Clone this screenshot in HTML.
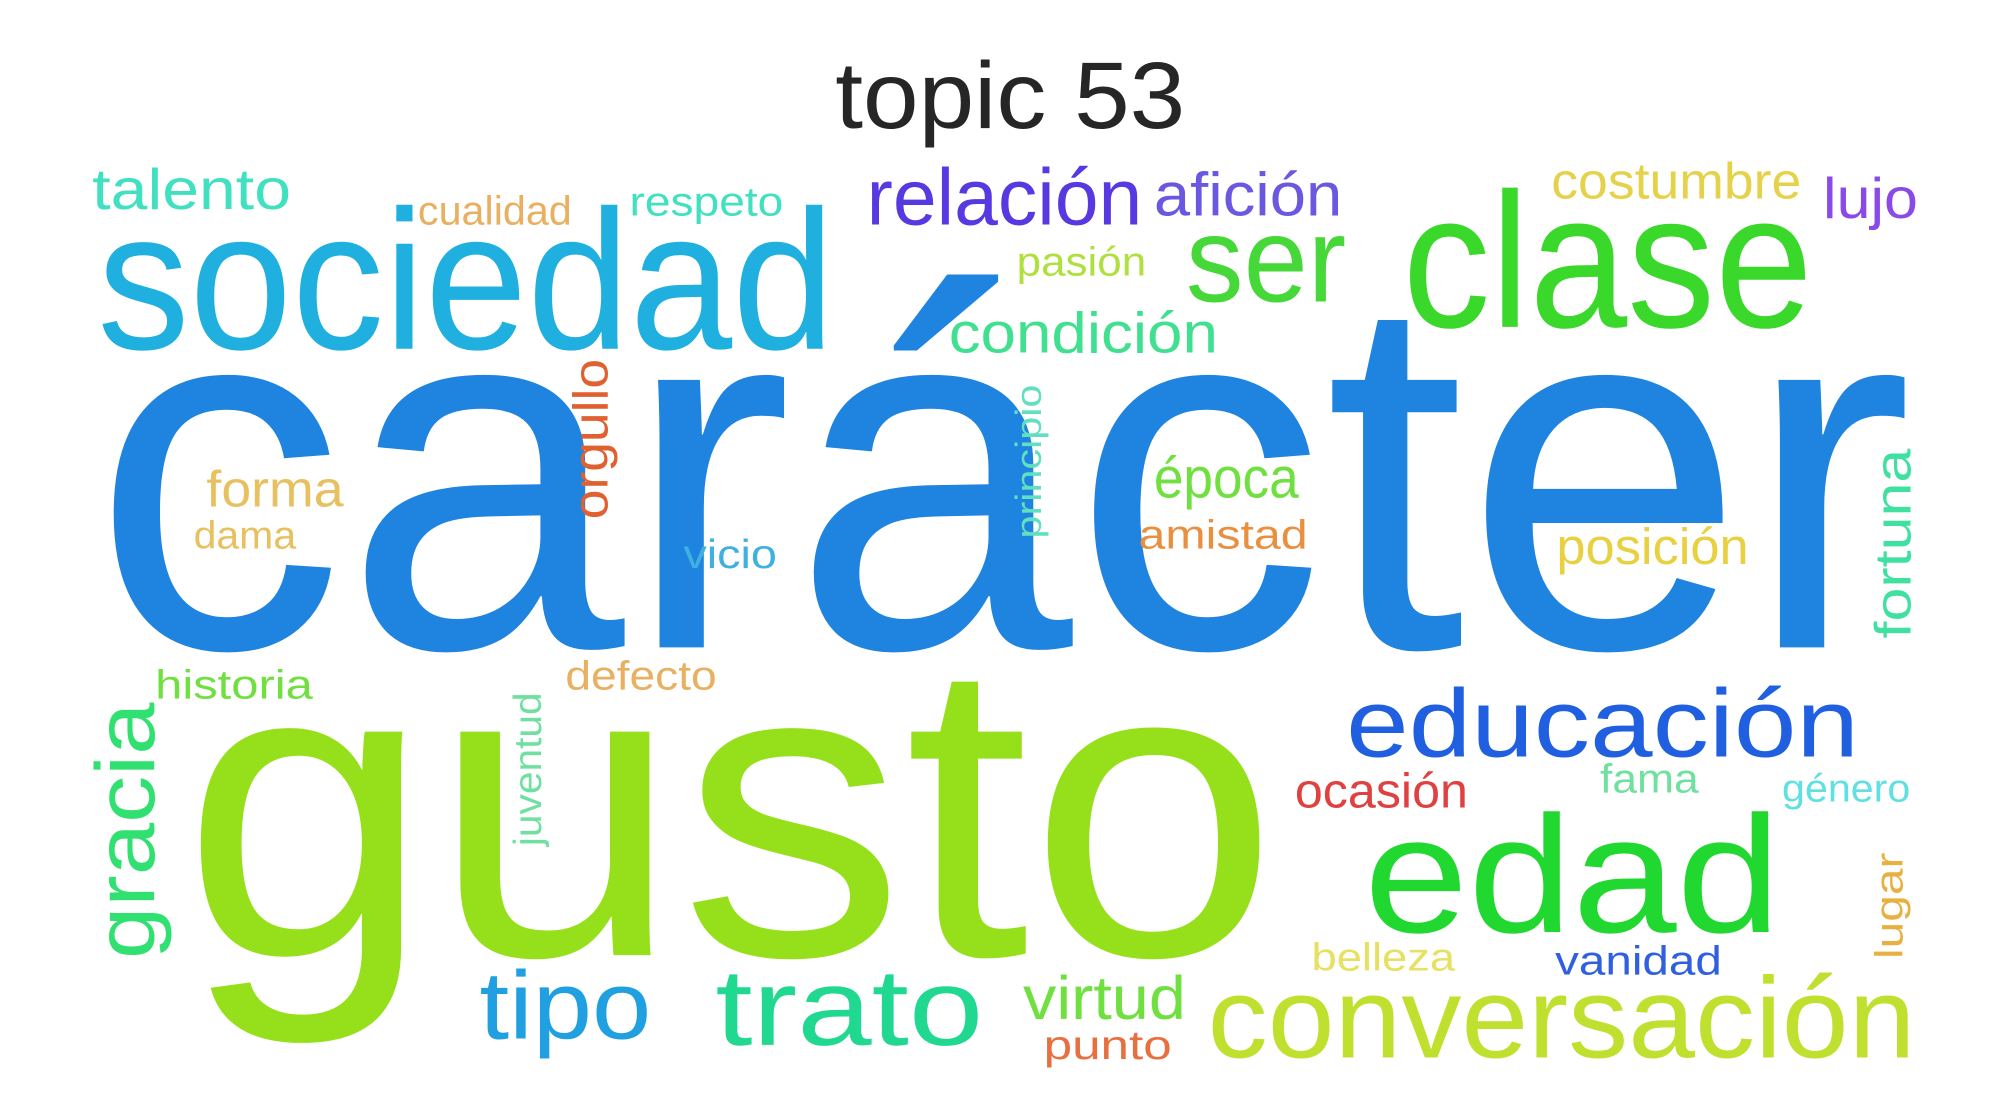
<!DOCTYPE html>
<html><head><meta charset="utf-8"><style>
html,body{margin:0;padding:0;background:#fff;width:2000px;height:1100px;overflow:hidden}
svg text{font-family:"Liberation Sans","DejaVu Sans",sans-serif}
</style></head><body>
<svg id="cloud" width="2000" height="1100" viewBox="0 0 1560 858" xmlns="http://www.w3.org/2000/svg">
<rect width="1560" height="858" fill="#fff"/>
<text x="788" y="100" font-size="74" text-anchor="middle" fill="#262626" textLength="273" lengthAdjust="spacingAndGlyphs">topic 53</text>
<g id="words"></g>
</svg>
<script>
const words = ["carácter","gusto","sociedad","clase","ser","relación","afición","costumbre","lujo","talento","cualidad","respeto","pasión","condición","orgullo","principio","forma","dama","época","amistad","vicio","posición","fortuna","historia","defecto","educación","gracia","juventud","ocasión","fama","género","edad","lugar","belleza","vanidad","tipo","trato","virtud","punto","conversación"];
const sizes = [395,330,155,150,95,62,48,40,45,45,32,32,32,45,38,28,40,30,45,32,32,40,40,32,32,75,65,30,38,32,30,130,30,30,32,75,85,48,32,90];
const colors = ["#1f83e0","#95e01a","#1fb0e0","#3ad82a","#45d838","#5838e0","#6a58e0","#e6d24a","#8a4ae8","#40e0c0","#e8b060","#40e0c0","#b0e040","#40e090","#e06030","#60e0c0","#e8c060","#e8c060","#70e040","#e89040","#40b0e0","#e8d040","#40e0a0","#70e040","#e8b060","#2060e0","#30e070","#70e0a0","#e04040","#70e0a0","#60e0e0","#20d830","#e8b040","#e8e060","#3060e0","#20a0e0","#20d890","#70e040","#e87040","#c0e030"];
const vertical = [0,0,0,0,0,0,0,0,0,0,0,0,0,0,1,1,0,0,0,0,0,0,1,0,0,0,1,1,0,0,0,0,1,0,0,0,0,0,0,0];
// layout: x, baseline y, rendered length
const layoutX = [72,142,76,1094,925,676,900,1210,1422,72,326,491,793,740,474,812,161,151,900,888,533,1214,1490,121,441,1050,120,422,1010,1248,1390,1064,1484,1023,1213,374,558,798,814,942];
const layoutY = [505,745,272,255,235,175,168,155,170,163,175,168,215,275,405,420,395,428,388,428,443,440,498,545,538,590,748,660,630,618,625,727,748,757,760,810,815,795,826,825];
const layoutL = [1420,855,575,320,125,215,147,195,74,155,120,120,101,210,125,120,107,80,113,132,73,150,148,123,118,400,200,120,135,77,100,325,83,112,130,134,209,127,100,552];
const g = document.getElementById('words');
const NS = "http://www.w3.org/2000/svg";
for (let i = 0; i < words.length; i++) {
  const t = document.createElementNS(NS, 'text');
  
  
  t.setAttribute('font-size', sizes[i]);
  t.setAttribute('fill', colors[i]);
  t.setAttribute('textLength', layoutL[i]);
  t.setAttribute('lengthAdjust', 'spacingAndGlyphs');
  if (vertical[i]) {
    t.setAttribute('x', 0); t.setAttribute('y', 0);
    t.setAttribute('transform', 'translate(' + layoutX[i] + ',' + layoutY[i] + ') rotate(-90)');
  } else {
    t.setAttribute('x', layoutX[i]); t.setAttribute('y', layoutY[i]);
  }
  t.textContent = words[i];
  g.appendChild(t);
}
</script>
</body></html>
